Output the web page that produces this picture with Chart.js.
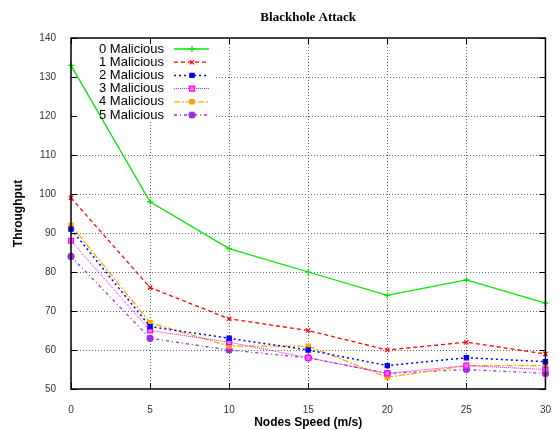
<!DOCTYPE html>
<html>
<head>
<meta charset="utf-8">
<script src="https://cdn.jsdelivr.net/npm/chart.js@4/dist/chart.umd.min.js"></script>
<style>
  body { margin: 0; background: #fff; }
</style>
</head>
<body>
<canvas id="chart" width="558" height="430"></canvas>
<script>
// node speed (m/s) vs throughput, one list per malicious-node count
const speeds = [0, 5, 10, 15, 20, 25, 30];
const mal0 = [133, 98, 86, 80, 74, 78, 72];
const mal1 = [99, 76, 68, 65, 60, 62, 59];
const mal2 = [91, 66, 63, 60, 56, 58, 57];
const mal3 = [88, 65, 62, 58, 54, 56, 55];
const mal4 = [92, 67, 61, 61, 53, 56, 56];
const mal5 = [84, 63, 60, 58, 54, 55, 54];
const seriesNames = ['0 Malicious', '1 Malicious', '2 Malicious', '3 Malicious', '4 Malicious', '5 Malicious'];
const xTicks = [0, 5, 10, 15, 20, 25, 30];
const yTicks = [50, 60, 70, 80, 90, 100, 110, 120, 130, 140];

const styles = [
  { color: '#00e800', dash: [], width: 1.3, point: 'cross', radius: 3, fill: '#00e800' },
  { color: '#ff0000', dash: [4, 3], width: 1.3, point: 'crossRot', radius: 3, fill: '#ff0000' },
  { color: '#0000ff', dash: [2, 3], width: 1.5, point: 'rect', radius: 3, fill: '#0000ff' },
  { color: '#ff00ff', dash: [1, 1], width: 1, point: 'rect', radius: 3.5, fill: '#ff70ff' },
  { color: '#ffa500', dash: [6, 2, 2, 2], width: 1.3, point: 'rect', radius: 3, fill: '#ffa500' },
  { color: '#9b30e0', dash: [3, 3, 1, 3], width: 1.3, point: 'circle', radius: 3, fill: '#9b30e0' }
];

const allSeries = [mal0, mal1, mal2, mal3, mal4, mal5];

const datasets = allSeries.map((vals, i) => ({
  label: seriesNames[i],
  data: vals.map((v, j) => ({ x: speeds[j], y: v })),
  borderColor: styles[i].color,
  backgroundColor: styles[i].fill,
  borderDash: styles[i].dash,
  borderWidth: styles[i].width,
  pointStyle: styles[i].point,
  pointRadius: styles[i].radius,
  pointBorderWidth: 1.2,
  pointBorderColor: styles[i].color,
  pointBackgroundColor: styles[i].fill,
  tension: 0,
  clip: false
}));

// area of the key, gnuplot leaves the grid out there
const keyBox = { right: 216, bottom: 122 };

function seg(ctx, x1, y1, x2, y2) {
  ctx.beginPath();
  ctx.moveTo(x1, y1);
  ctx.lineTo(x2, y2);
  ctx.stroke();
}

const gnuplotLook = {
  id: 'gnuplotLook',
  beforeDatasetsDraw(chart) {
    const { ctx, chartArea: a, scales: { x, y } } = chart;
    ctx.save();
    ctx.strokeStyle = '#666';
    ctx.lineWidth = 1;
    ctx.setLineDash([1, 2]);
    xTicks.slice(1, -1).forEach(v => {
      const px = Math.round(x.getPixelForValue(v)) + 0.5;
      const top = px < keyBox.right ? keyBox.bottom : a.top;
      seg(ctx, px, top, px, a.bottom);
    });
    yTicks.slice(1, -1).forEach(v => {
      const py = Math.round(y.getPixelForValue(v)) + 0.5;
      const left = py < keyBox.bottom ? keyBox.right : a.left;
      seg(ctx, left, py, a.right, py);
    });
    ctx.restore();
  },
  afterDatasetsDraw(chart) {
    const { ctx, chartArea: a, scales: { x, y } } = chart;
    ctx.save();
    ctx.strokeStyle = '#000';
    ctx.setLineDash([]);
    ctx.lineWidth = 1;
    // inward ticks, mirrored
    xTicks.forEach(v => {
      const px = Math.round(x.getPixelForValue(v)) + 0.5;
      seg(ctx, px, a.bottom, px, a.bottom - 6);
      seg(ctx, px, a.top, px, a.top + 6);
    });
    yTicks.forEach(v => {
      const py = Math.round(y.getPixelForValue(v)) + 0.5;
      seg(ctx, a.left, py, a.left + 6, py);
      seg(ctx, a.right, py, a.right - 6, py);
    });
    ctx.lineWidth = 1.5;
    ctx.strokeRect(a.left, a.top, a.right - a.left, a.bottom - a.top);

    // key: text then line sample
    ctx.font = '13px "Liberation Sans", Arial, sans-serif';
    ctx.textAlign = 'right';
    ctx.textBaseline = 'middle';
    chart.data.datasets.forEach((ds, i) => {
      const ry = 49 + i * 13.2;
      ctx.fillStyle = '#000';
      ctx.fillText(ds.label, 164, ry);
      ctx.strokeStyle = ds.borderColor;
      ctx.lineWidth = ds.borderWidth;
      ctx.setLineDash(ds.borderDash);
      seg(ctx, 174, ry, 209, ry);
      ctx.setLineDash([]);
      ctx.fillStyle = ds.pointBackgroundColor;
      ctx.lineWidth = ds.pointBorderWidth;
      Chart.helpers.drawPoint(ctx, {
        pointStyle: ds.pointStyle,
        radius: ds.pointRadius,
        rotation: 0,
        borderWidth: ds.pointBorderWidth
      }, 192, ry);
    });
    ctx.restore();
  },
  afterDraw(chart) {
    const { ctx, chartArea: a } = chart;
    ctx.save();
    ctx.fillStyle = '#000';
    ctx.font = 'bold 13px "Liberation Serif", "Times New Roman", serif';
    ctx.textAlign = 'center';
    ctx.textBaseline = 'middle';
    ctx.fillText('Blackhole Attack', (a.left + a.right) / 2, 18);
    ctx.restore();
  }
};

new Chart(document.getElementById('chart'), {
  type: 'line',
  data: { datasets },
  options: {
    responsive: false,
    animation: false,
    layout: { padding: { top: 38, right: 7, left: 0, bottom: 0 } },
    plugins: {
      legend: { display: false },
      tooltip: { enabled: false },
      title: { display: false }
    },
    scales: {
      x: {
        type: 'linear',
        min: 0,
        max: 30,
        afterFit: s => { s.height = 41; },
        afterBuildTicks: s => { s.ticks = xTicks.map(v => ({ value: v })); },
        grid: { display: false },
        border: { display: false },
        ticks: { padding: 7, color: '#333', font: { family: '"Liberation Sans", Arial, sans-serif', size: 10 } },
        title: {
          display: true,
          text: 'Nodes Speed (m/s)',
          color: '#000',
          padding: { top: 0, bottom: 0 },
          font: { family: '"Liberation Sans", Arial, sans-serif', size: 12, weight: 'bold' }
        }
      },
      y: {
        type: 'linear',
        min: 50,
        max: 140,
        afterFit: s => { s.width = 71; },
        afterBuildTicks: s => { s.ticks = yTicks.map(v => ({ value: v })); },
        grid: { display: false },
        border: { display: false },
        ticks: { padding: 7, color: '#333', font: { family: '"Liberation Sans", Arial, sans-serif', size: 10 } },
        title: {
          display: true,
          text: 'Throughput',
          color: '#000',
          padding: { top: 11, bottom: 0 },
          font: { family: '"Liberation Sans", Arial, sans-serif', size: 12, weight: 'bold' }
        }
      }
    }
  },
  plugins: [gnuplotLook]
});
</script>
</body>
</html>
